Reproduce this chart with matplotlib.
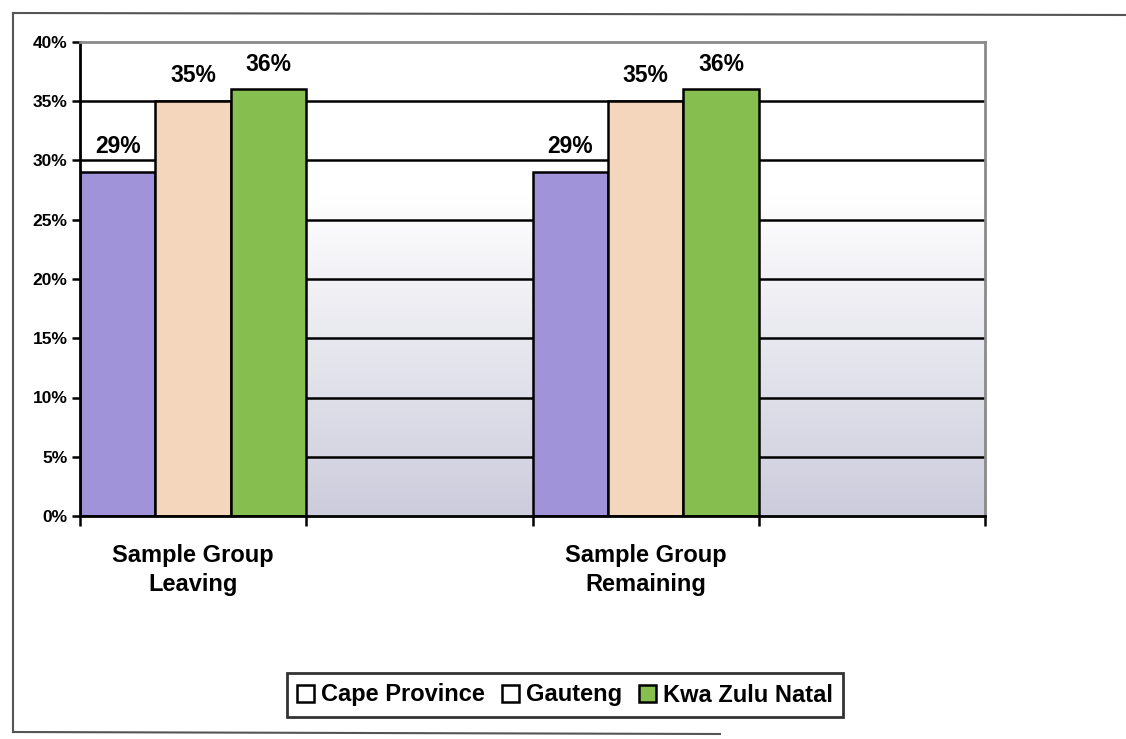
import numpy as np
import matplotlib
matplotlib.use("Agg")
import matplotlib.pyplot as plt
from matplotlib.patches import Patch
from matplotlib.lines import Line2D

plt.rcParams['font.family'] = ['Liberation Sans', 'DejaVu Sans']
plt.rcParams['font.weight'] = 'bold'

# Data
groups = ["Sample Group\nLeaving", "Sample Group\nRemaining"]
regions = ["Cape Province", "Gauteng", "Kwa Zulu Natal"]
cape = [29, 29]
gauteng = [35, 35]
kzn = [36, 36]
y_ticks = [0, 5, 10, 15, 20, 25, 30, 35, 40]

bar_colors = ["#a193d9", "#f3d6bb", "#86be50"]
legend_faces = ["white", "white", "#86be50"]

fig = plt.figure(figsize=(11.26, 7.39), dpi=100)
ax = fig.add_axes([80 / 1126, 1 - 516 / 739, 905 / 1126, 474 / 739])

# Plot-area background: white fading to pale lavender toward the baseline
ny = 400
yy = np.linspace(40, 0, ny)
t = np.clip((27 - yy) / 27, 0, 1)[:, None]
base = np.array([1.0, 1.0, 1.0])
tint = np.array([0.80, 0.80, 0.865])
grad = (1 - t) * base + t * tint
img = np.repeat(grad[:, None, :], 2, axis=1)
ax.imshow(img, extent=[0, 4, 0, 40], aspect='auto', zorder=0, interpolation='bilinear')

# Horizontal gridlines
for v in y_ticks[1:-1]:
    ax.axhline(v, color='black', lw=1.8, zorder=1)

# Each group occupies one slot of width 1, followed by an empty slot
width = 1 / 3
group_x = np.array([0, 2])
series = [cape, gauteng, kzn]
for i, (vals, col) in enumerate(zip(series, bar_colors)):
    xs = group_x + i * width
    bars = ax.bar(xs, vals, width=width, align='edge', color=col,
                  edgecolor='black', linewidth=1.8, zorder=2)
    for b, v in zip(bars, vals):
        ax.annotate(f"{v}%", (b.get_x() + b.get_width() / 2, v),
                    xytext=(0, 10), textcoords='offset points',
                    ha='center', va='bottom', fontsize=16.5, fontweight='bold')

ax.set_xlim(0, 4)
ax.set_ylim(0, 40)
ax.set_yticks(y_ticks)
ax.set_yticklabels([f"{v}%" for v in y_ticks], fontsize=12.5, fontweight='bold')
ax.tick_params(axis='y', length=6, width=1.8, direction='out', pad=3)

ax.set_xticks(group_x + 0.5)
ax.set_xticklabels(groups, fontsize=17, fontweight='bold', linespacing=1.32)
ax.set_xticks([0, 1, 2, 3, 4], minor=True)
ax.tick_params(axis='x', which='major', length=0, pad=20)
ax.tick_params(axis='x', which='minor', length=7, width=1.8, direction='out')

for side in ['left', 'bottom']:
    ax.spines[side].set_color('black')
    ax.spines[side].set_linewidth(2)
for side in ['top', 'right']:
    ax.spines[side].set_color('#8a8a8a')
    ax.spines[side].set_linewidth(2)
for s in ax.spines.values():
    s.set_zorder(3)

# Legend
handles = [Patch(facecolor=f, edgecolor='black', linewidth=1.8) for f in legend_faces]
leg = fig.legend(handles, regions, loc='center', bbox_to_anchor=(565 / 1126, 1 - 695 / 739),
                 ncol=3, frameon=True, fancybox=False,
                 prop={'weight': 'bold', 'size': 17},
                 handlelength=0.72, handleheight=0.72, handletextpad=0.3,
                 columnspacing=0.7, borderpad=0.45, borderaxespad=0)
leg.get_frame().set_edgecolor('black')
leg.get_frame().set_linewidth(2)

# Chart frame
fig.add_artist(Line2D([13 / 1126, 13 / 1126], [1 - 13 / 739, 1 - 732 / 739],
                      transform=fig.transFigure, color='#555555', lw=1.5))
fig.add_artist(Line2D([13 / 1126, 1], [1 - 13 / 739, 1 - 15 / 739],
                      transform=fig.transFigure, color='#555555', lw=1.5))
fig.add_artist(Line2D([13 / 1126, 720 / 1126], [1 - 732 / 739, 1 - 734 / 739],
                      transform=fig.transFigure, color='#555555', lw=1.5))

fig.savefig("out.png", dpi=100)
